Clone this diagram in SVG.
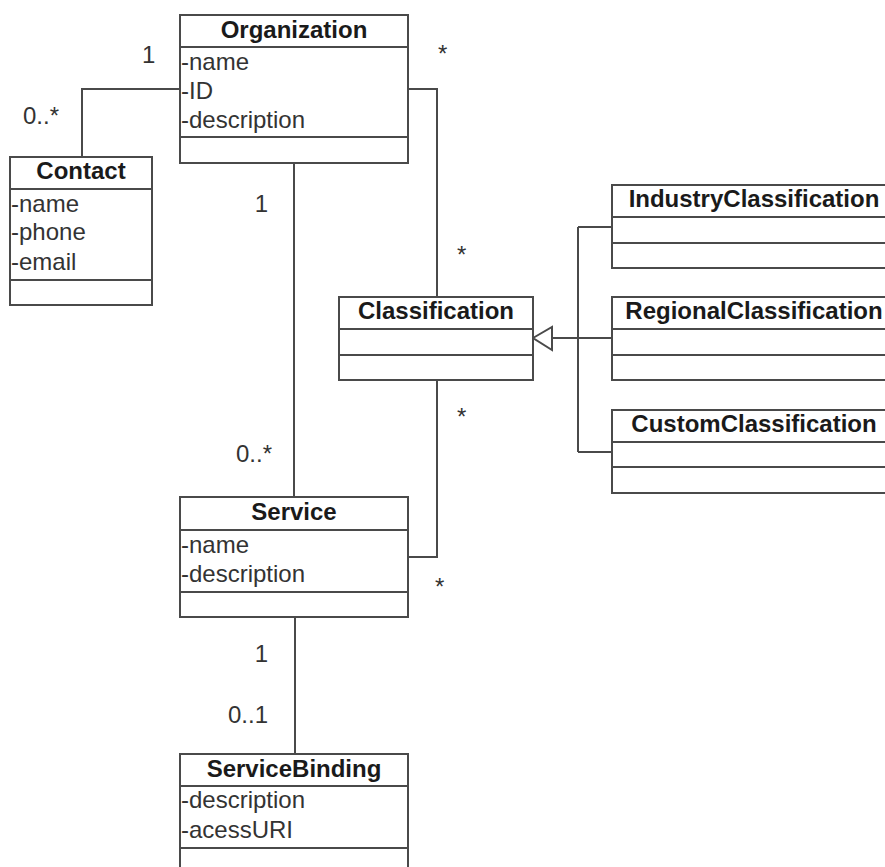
<svg xmlns="http://www.w3.org/2000/svg" width="885" height="867" viewBox="0 0 885 867">
<style>
.box{fill:#fff;stroke:#4a4a4a;stroke-width:2}
.ln{fill:none;stroke:#4a4a4a;stroke-width:2}
.t{font-family:"Liberation Sans",Arial,sans-serif;font-size:24px;font-weight:bold;fill:#1a1a1a;text-anchor:middle}
.a{font-family:"Liberation Sans",Arial,sans-serif;font-size:24px;fill:#333}
.m{font-family:"Liberation Sans",Arial,sans-serif;font-size:24px;fill:#333}
.r{text-anchor:end}
</style>
<rect width="885" height="867" fill="#fff"/>
<g id="connectors">
<polyline class="ln" points="180,89 82,89 82,157"/>
<line class="ln" x1="294" y1="163" x2="294" y2="497"/>
<polyline class="ln" points="408,89 437,89 437,297"/>
<polyline class="ln" points="437,380 437,557 408,557"/>
<line class="ln" x1="295" y1="617" x2="295" y2="754"/>
<line class="ln" x1="578" y1="227" x2="578" y2="452"/>
<line class="ln" x1="578" y1="227" x2="612" y2="227"/>
<line class="ln" x1="578" y1="452" x2="612" y2="452"/>
<line class="ln" x1="578" y1="338" x2="612" y2="338"/>
<line class="ln" x1="552" y1="338" x2="578" y2="338" stroke-width="4"/>
<polygon class="box" points="533,338 552,327 552,350"/>
<text class="m" x="142" y="63">1</text>
<text class="m" x="23" y="124">0..*</text>
<text class="m r" x="268" y="212">1</text>
<text class="m r" x="272" y="462">0..*</text>
<text class="m" x="438" y="62">*</text>
<text class="m" x="457" y="263">*</text>
<text class="m" x="457" y="425">*</text>
<text class="m" x="435" y="595">*</text>
<text class="m r" x="268" y="662">1</text>
<text class="m r" x="268" y="723">0..1</text>
</g>
<g id="Organization">
<rect class="box" x="180" y="15" width="228" height="148"/>
<line class="ln" x1="180" y1="47" x2="408" y2="47"/>
<line class="ln" x1="180" y1="137" x2="408" y2="137"/>
<text class="t" x="294" y="38">Organization</text>
<text class="a" x="181" y="70">-name</text>
<text class="a" x="181" y="99">-ID</text>
<text class="a" x="181" y="128">-description</text>
</g>
<g id="Contact">
<rect class="box" x="10" y="157" width="142" height="148"/>
<line class="ln" x1="10" y1="189" x2="152" y2="189"/>
<line class="ln" x1="10" y1="280" x2="152" y2="280"/>
<text class="t" x="81" y="179">Contact</text>
<text class="a" x="11" y="212">-name</text>
<text class="a" x="11" y="240">-phone</text>
<text class="a" x="11" y="270">-email</text>
</g>
<g id="Classification">
<rect class="box" x="339" y="297" width="194" height="83"/>
<line class="ln" x1="339" y1="329" x2="533" y2="329"/>
<line class="ln" x1="339" y1="355" x2="533" y2="355"/>
<text class="t" x="436" y="319">Classification</text>
</g>
<g id="IndustryClassification">
<rect class="box" x="612" y="185" width="284" height="83"/>
<line class="ln" x1="612" y1="217" x2="896" y2="217"/>
<line class="ln" x1="612" y1="243" x2="896" y2="243"/>
<text class="t" x="754" y="207">IndustryClassification</text>
</g>
<g id="RegionalClassification">
<rect class="box" x="612" y="297" width="284" height="83"/>
<line class="ln" x1="612" y1="329" x2="896" y2="329"/>
<line class="ln" x1="612" y1="355" x2="896" y2="355"/>
<text class="t" x="754" y="319">RegionalClassification</text>
</g>
<g id="CustomClassification">
<rect class="box" x="612" y="410" width="284" height="83"/>
<line class="ln" x1="612" y1="442" x2="896" y2="442"/>
<line class="ln" x1="612" y1="467" x2="896" y2="467"/>
<text class="t" x="754" y="432">CustomClassification</text>
</g>
<g id="Service">
<rect class="box" x="180" y="497" width="228" height="120"/>
<line class="ln" x1="180" y1="530" x2="408" y2="530"/>
<line class="ln" x1="180" y1="592" x2="408" y2="592"/>
<text class="t" x="294" y="520">Service</text>
<text class="a" x="181" y="553">-name</text>
<text class="a" x="181" y="582">-description</text>
</g>
<g id="ServiceBinding">
<rect class="box" x="180" y="754" width="228" height="130"/>
<line class="ln" x1="180" y1="786" x2="408" y2="786"/>
<line class="ln" x1="180" y1="848" x2="408" y2="848"/>
<text class="t" x="294" y="777">ServiceBinding</text>
<text class="a" x="181" y="808">-description</text>
<text class="a" x="181" y="838">-acessURI</text>
</g>
</svg>
